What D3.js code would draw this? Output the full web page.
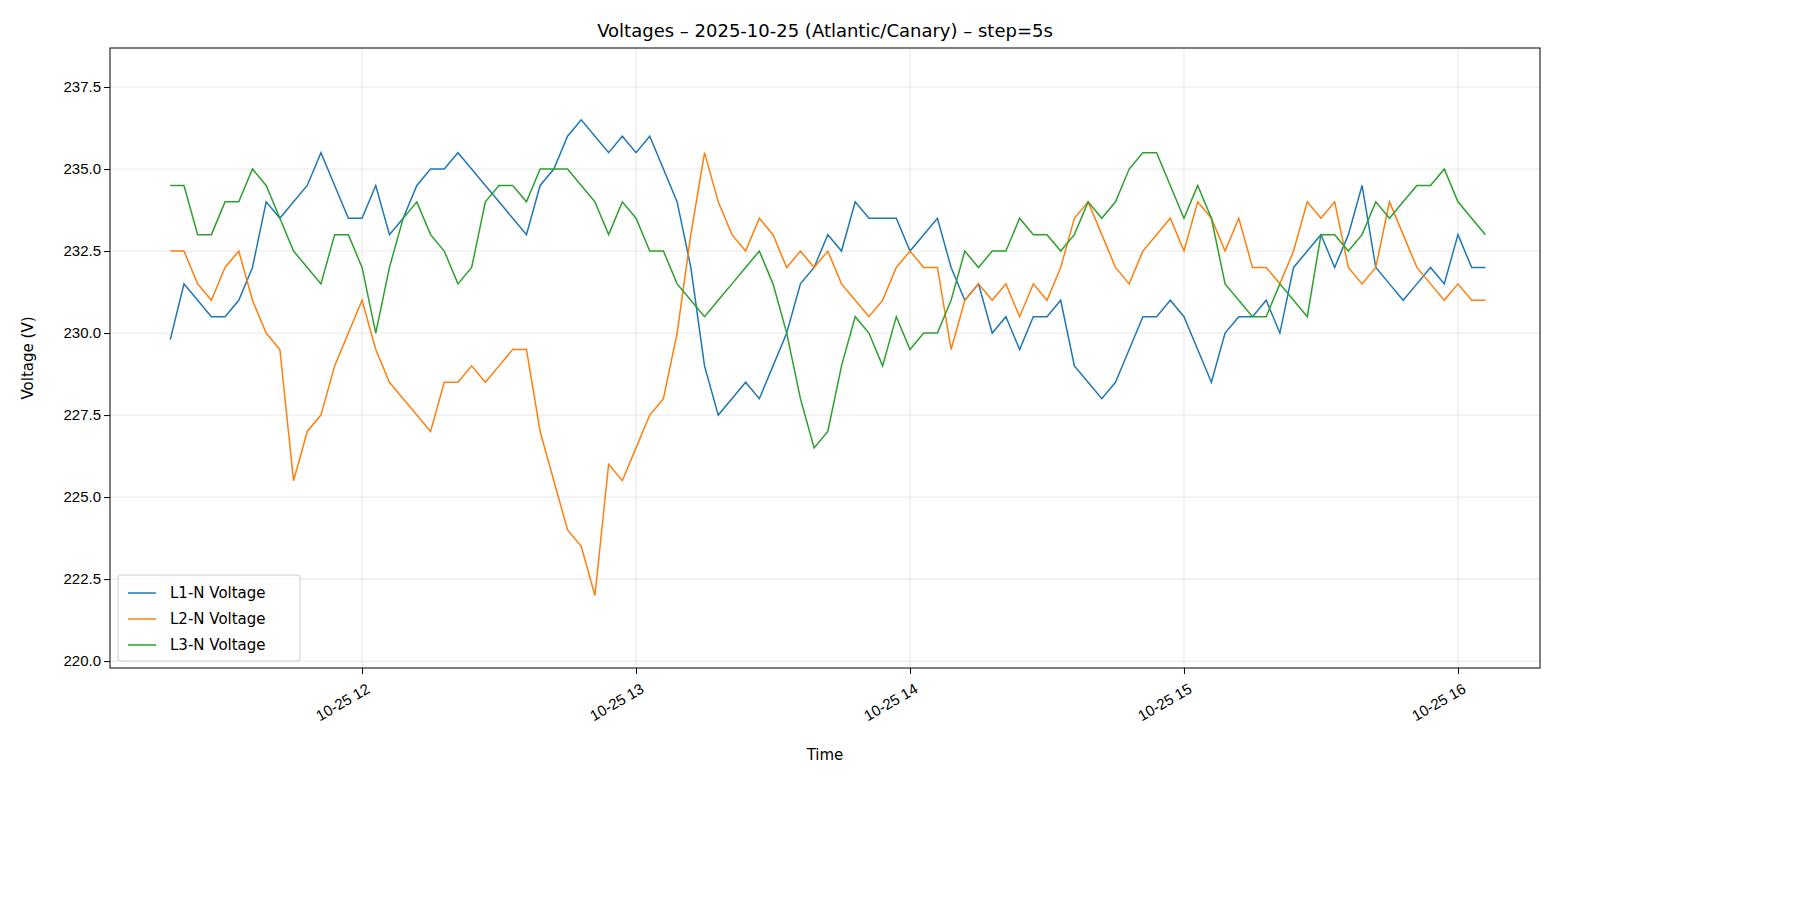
<!DOCTYPE html>
<html>
<head>
<meta charset="utf-8">
<script src="https://cdn.jsdelivr.net/npm/d3@7"></script>
<style>
  body { margin: 0; background: #fff; font-family: "DejaVu Sans", sans-serif; }
  .axis text { font-size: 15px; fill: #000; }
  .axis path, .axis line { stroke: #000; }
</style>
</head>
<body>
<svg id="chart" width="1800" height="900"></svg>
<script>
// Samples every 3 minutes starting 11:18
var startTime = new Date(2025, 9, 25, 11, 18)
var stepMin   = 3
var l1 = [229.8,231.5,231,230.5,230.5,231,232,234,233.5,234,234.5,235.5,234.5,233.5,233.5,234.5,233,233.5,234.5,235,
          235,235.5,235,234.5,234,233.5,233,234.5,235,236,236.5,236,235.5,236,235.5,236,235,234,232,229,
          227.5,228,228.5,228,229,230,231.5,232,233,232.5,234,233.5,233.5,233.5,232.5,233,233.5,232,231,231.5,
          230,230.5,229.5,230.5,230.5,231,229,228.5,228,228.5,229.5,230.5,230.5,231,230.5,229.5,228.5,230,230.5,230.5,
          231,230,232,232.5,233,232,233,234.5,232,231.5,231,231.5,232,231.5,233,232,232]
var l2 = [232.5,232.5,231.5,231,232,232.5,231,230,229.5,225.5,227,227.5,229,230,231,229.5,228.5,228,227.5,227,
          228.5,228.5,229,228.5,229,229.5,229.5,227,225.5,224,223.5,222,226,225.5,226.5,227.5,228,230,233,235.5,
          234,233,232.5,233.5,233,232,232.5,232,232.5,231.5,231,230.5,231,232,232.5,232,232,229.5,231,231.5,
          231,231.5,230.5,231.5,231,232,233.5,234,233,232,231.5,232.5,233,233.5,232.5,234,233.5,232.5,233.5,232,
          232,231.5,232.5,234,233.5,234,232,231.5,232,234,233,232,231.5,231,231.5,231,231]
var l3 = [234.5,234.5,233,233,234,234,235,234.5,233.5,232.5,232,231.5,233,233,232,230,232,233.5,234,233,
          232.5,231.5,232,234,234.5,234.5,234,235,235,235,234.5,234,233,234,233.5,232.5,232.5,231.5,231,230.5,
          231,231.5,232,232.5,231.5,230,228,226.5,227,229,230.5,230,229,230.5,229.5,230,230,231,232.5,232,
          232.5,232.5,233.5,233,233,232.5,233,234,233.5,234,235,235.5,235.5,234.5,233.5,234.5,233.5,231.5,231,230.5,
          230.5,231.5,231,230.5,233,233,232.5,233,234,233.5,234,234.5,234.5,235,234,233.5,233]
var seriesNames  = ["L1-N Voltage", "L2-N Voltage", "L3-N Voltage"]
var seriesColors = ["#1f77b4", "#ff7f0e", "#2ca02c"]
var yTicks = [220.0, 222.5, 225.0, 227.5, 230.0, 232.5, 235.0, 237.5]
var xTicks = [12, 13, 14, 15, 16]

var svg     = d3.select("#chart"),
    pLeft   = 110,
    pRight  = 1540,
    pTop    = 48,
    pBottom = 668

var xScale = d3.scaleTime()
  .domain([new Date(2025, 9, 25, 11, 4, 48), new Date(2025, 9, 25, 16, 17, 58)])
  .range([pLeft, pRight])
var yScale = d3.scaleLinear().domain([219.79, 238.69]).range([pBottom, pTop])

var timeAt = function (i) { return new Date(startTime.getTime() + i * stepMin * 60000) }

// Grid
var tickDates = xTicks.map(function (h) { return new Date(2025, 9, 25, h, 0) })
svg.append("g").selectAll("line").data(tickDates).enter().append("line")
   .attr("x1", function (d) { return xScale(d) }).attr("x2", function (d) { return xScale(d) })
   .attr("y1", pTop).attr("y2", pBottom).attr("stroke", "#b0b0b0").attr("stroke-opacity", 0.3)
svg.append("g").selectAll("line").data(yTicks).enter().append("line")
   .attr("y1", function (d) { return yScale(d) }).attr("y2", function (d) { return yScale(d) })
   .attr("x1", pLeft).attr("x2", pRight).attr("stroke", "#b0b0b0").attr("stroke-opacity", 0.3)

// Lines
var line = d3.line()
  .x(function (d, i) { return xScale(timeAt(i)) })
  .y(function (d) { return yScale(d) })
;[l1, l2, l3].forEach(function (s, k) {
  svg.append("path").datum(s).attr("d", line)
     .attr("fill", "none").attr("stroke", seriesColors[k]).attr("stroke-width", 1.5)
})

// Frame
svg.append("rect").attr("x", pLeft).attr("y", pTop).attr("width", pRight - pLeft).attr("height", pBottom - pTop)
   .attr("fill", "none").attr("stroke", "#000").attr("stroke-width", 1)

// Axes
var xAxis = d3.axisBottom(xScale).tickValues(tickDates).tickSizeOuter(0).tickSize(6)
  .tickFormat(function (d) { return "10-25 " + d.getHours() })
var gx = svg.append("g").attr("class", "axis").attr("transform", "translate(0," + pBottom + ")").call(xAxis)
gx.select(".domain").remove()
gx.selectAll("text").attr("text-anchor", "end").attr("dy", null).attr("dx", null)
  .attr("transform", "translate(4,16) rotate(-30)")

var yAxis = d3.axisLeft(yScale).tickValues(yTicks).tickSize(6).tickFormat(d3.format(".1f"))
var gy = svg.append("g").attr("class", "axis").attr("transform", "translate(" + pLeft + ",0)").call(yAxis)
gy.select(".domain").remove()

// Labels
svg.append("text").attr("x", (pLeft + pRight) / 2).attr("y", 37).attr("text-anchor", "middle")
   .style("font-size", "18px").text("Voltages – 2025-10-25 (Atlantic/Canary) – step=5s")
svg.append("text").attr("x", (pLeft + pRight) / 2).attr("y", 760).attr("text-anchor", "middle")
   .style("font-size", "15px").text("Time")
svg.append("text").attr("transform", "translate(33," + (pTop + pBottom) / 2 + ") rotate(-90)")
   .attr("text-anchor", "middle").style("font-size", "15px").text("Voltage (V)")

// Legend
var lg = svg.append("g").attr("transform", "translate(118,575)")
lg.append("rect").attr("width", 182).attr("height", 86).attr("rx", 3)
  .attr("fill", "#fff").attr("fill-opacity", 0.8).attr("stroke", "#ccc")
seriesNames.forEach(function (n, k) {
  var y = 18 + k * 26
  lg.append("line").attr("x1", 10).attr("x2", 38).attr("y1", y).attr("y2", y)
    .attr("stroke", seriesColors[k]).attr("stroke-width", 1.5)
  lg.append("text").attr("x", 52).attr("y", y + 5).style("font-size", "15px").text(n)
})
</script>
</body>
</html>
